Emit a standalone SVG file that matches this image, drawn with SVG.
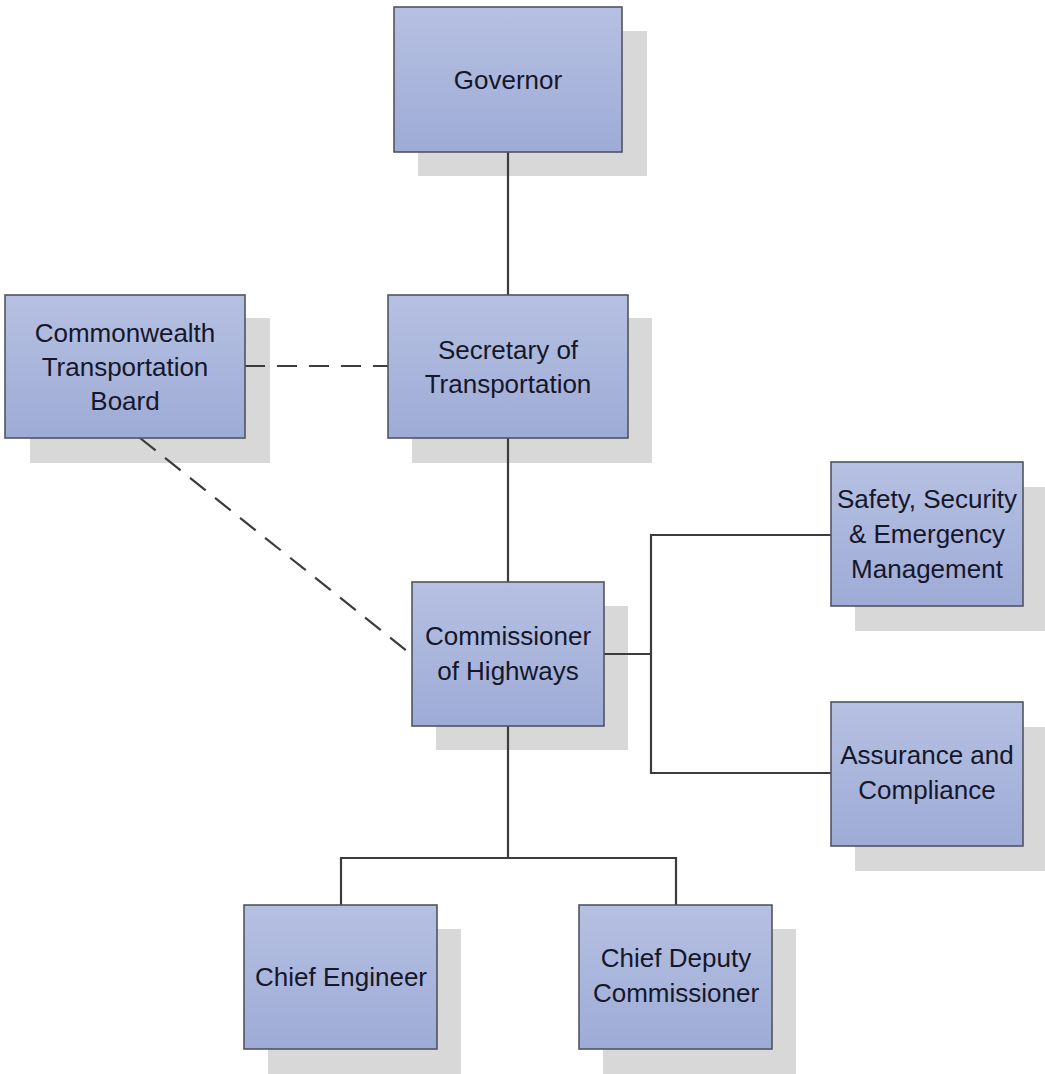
<svg xmlns="http://www.w3.org/2000/svg" width="1045" height="1074" viewBox="0 0 1045 1074">
<defs>
<linearGradient id="g" x1="0" y1="0" x2="0" y2="1">
<stop offset="0" stop-color="#b6c0e2"/>
<stop offset="1" stop-color="#9eabd6"/>
</linearGradient>
<style>
.sh{fill:#d8d8d8}
.bx{fill:url(#g);stroke:#4f5560;stroke-width:1.6}
.t{font-family:"Liberation Sans",Arial,sans-serif;font-size:26px;fill:#15172a;text-anchor:middle}
.c{fill:none;stroke:#3c3c3c;stroke-width:2.2}
.d{fill:none;stroke:#3c3c3c;stroke-width:2.2;stroke-dasharray:20 12}
</style>
</defs>
<rect width="1045" height="1074" fill="#ffffff"/>
<g id="shadows">
<rect class="sh" x="418" y="31" width="229" height="145"/>
<rect class="sh" x="30" y="318" width="240" height="145"/>
<rect class="sh" x="412" y="318" width="240" height="145"/>
<rect class="sh" x="436" y="606" width="192" height="144"/>
<rect class="sh" x="855" y="487" width="192" height="144"/>
<rect class="sh" x="855" y="727" width="192" height="144"/>
<rect class="sh" x="268" y="929" width="193" height="145"/>
<rect class="sh" x="603" y="929" width="193" height="145"/>
</g>
<g id="connectors">
<path class="c" d="M508 152V295"/>
<path class="c" d="M508 438V582"/>
<path class="c" d="M508 726V858M341 905V858H676V905"/>
<path class="c" d="M604 654H651M831 535H651V773H831"/>
<path class="d" d="M245 366H388"/>
<path class="d" d="M140 438L412 655"/>
</g>
<g id="governor">
<rect class="bx" x="394" y="7" width="228" height="145"/>
<text class="t" x="508" y="89">Governor</text>
</g>
<g id="ctb">
<rect class="bx" x="5" y="295" width="240" height="143"/>
<text class="t" x="125" y="342">Commonwealth</text>
<text class="t" x="125" y="376">Transportation</text>
<text class="t" x="125" y="410">Board</text>
</g>
<g id="secretary">
<rect class="bx" x="388" y="295" width="240" height="143"/>
<text class="t" x="508" y="359">Secretary of</text>
<text class="t" x="508" y="393">Transportation</text>
</g>
<g id="commissioner">
<rect class="bx" x="412" y="582" width="192" height="144"/>
<text class="t" x="508" y="645">Commissioner</text>
<text class="t" x="508" y="680">of Highways</text>
</g>
<g id="safety">
<rect class="bx" x="831" y="462" width="192" height="144"/>
<text class="t" x="927" y="508">Safety, Security</text>
<text class="t" x="927" y="543">&amp; Emergency</text>
<text class="t" x="927" y="578">Management</text>
</g>
<g id="assurance">
<rect class="bx" x="831" y="702" width="192" height="144"/>
<text class="t" x="927" y="764">Assurance and</text>
<text class="t" x="927" y="799">Compliance</text>
</g>
<g id="chief-engineer">
<rect class="bx" x="244" y="905" width="193" height="144"/>
<text class="t" x="341" y="986">Chief Engineer</text>
</g>
<g id="chief-deputy">
<rect class="bx" x="579" y="905" width="193" height="144"/>
<text class="t" x="676" y="967">Chief Deputy</text>
<text class="t" x="676" y="1002">Commissioner</text>
</g>
</svg>
